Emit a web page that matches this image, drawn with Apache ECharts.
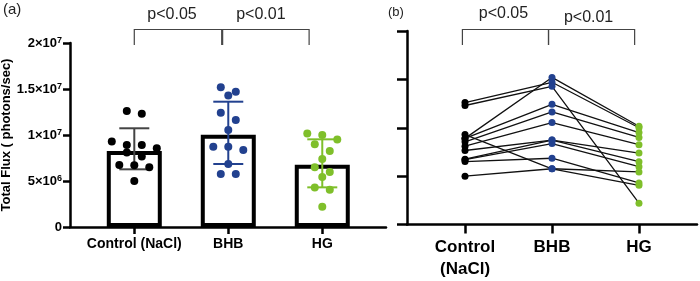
<!DOCTYPE html>
<html><head><meta charset="utf-8">
<script src="https://cdn.jsdelivr.net/npm/echarts@6/dist/echarts.min.js"></script>
<style>html,body{margin:0;padding:0;background:#fff}#c{width:700px;height:281px}</style>
</head><body><div id="c"></div>
<script>
// ---------- data (values in units of 10^6 photons/sec) ----------
const categoriesA = ['Control (NaCl)', 'BHB', 'HG'];
const categoriesB = ['Control\n(NaCl)', 'BHB', 'HG'];
// same animal at the same index in each group
const control = [12.6, 12.3, 8.9, 8.9, 8.55, 8.1, 7.65, 6.75, 6.7, 6.5, 9.3, 5.0];
const bhb     = [14.7, 14.28, 15.2, 12.42, 11.63, 10.54, 8.73, 8.73, 8.37, 6.85, 5.76, 5.76];
const hg      = [10.0, 2.2, 10.15, 9.5, 9.0, 8.25, 7.38, 6.49, 5.98, 4.3, 4.05, 5.43];
const barMeans = [8.26, 10.03, 6.77];
const errLow   = [6.27, 6.85, 4.31];
const errHigh  = [10.73, 13.62, 9.53];
const yTickValues = [0, 5, 10, 15, 20];
const yTickLabels = ['0', '5×10{s|6}', '1×10{s|7}', '1.5×10{s|7}', '2×10{s|7}'];
const pLabels = ['p<0.05', 'p<0.01'];

// ---------- styles / layout ----------
const dotColors = ['#000000', '#22418f', '#7fbf2a'];
const errColors = ['#444444', '#22418f', '#7fbf2a'];
const gridA = {left: 70, top: 43, width: 316, height: 184};
const gridB = {left: 407, top: 31, width: 290, height: 193.5};
const xRangeA = [-0.684, 2.678];
const xRangeB = [-0.667, 2.667];
const groups = [control, bhb, hg];
const FONT = 'Liberation Sans, Arial, sans-serif';

// simple row-based beeswarm (GraphPad-like): returns pixel offsets
function swarm(vals, pxPerUnit, diam, step) {
  const idx = vals.map((v, i) => i).sort((a, b) => vals[b] - vals[a]);
  const off = new Array(vals.length).fill(0);
  let row = [];
  const flush = () => { row.forEach((k, j) => { off[k] = (j - (row.length - 1) / 2) * step; }); row = []; };
  idx.forEach(k => {
    if (row.length && (vals[row[0]] - vals[k]) * pxPerUnit >= diam) flush();
    row.push(k);
  });
  flush();
  return off;
}
const pxYA = gridA.height / 20;
const pxXA = gridA.width / (xRangeA[1] - xRangeA[0]);

const chart = echarts.init(document.getElementById('c'), null, {renderer: 'canvas'});
const axisCol = '#000';
function yAxisCommon(gi, labels) {
  return {
    type: 'value', gridIndex: gi, min: 0, max: 20, interval: 5, position: 'left',
    axisLine: {show: true, onZero: false, lineStyle: {color: axisCol, width: 2.5}},
    axisTick: {show: true, length: gi === 0 ? 7 : 10, lineStyle: {color: axisCol, width: 2.5}},
    splitLine: {show: false},
    axisLabel: labels ? {
      margin: 8,
      formatter: v => yTickLabels[yTickValues.indexOf(v)],
      color: '#000', fontSize: 13, fontWeight: 'bold', fontFamily: FONT,
      rich: {s: {fontSize: 9, fontWeight: 'bold', color: '#000', verticalAlign: 'top', lineHeight: 9, fontFamily: FONT}}
    } : {show: false}
  };
}
function xAxisCommon(gi, range, cats, tickLen, label) {
  return {
    type: 'value', gridIndex: gi, min: range[0], max: range[1], position: 'bottom',
    axisLine: {show: true, onZero: false, lineStyle: {color: axisCol, width: 2.5}},
    axisTick: {show: true, customValues: [0, 1, 2], length: tickLen, lineStyle: {color: axisCol, width: 2.5}},
    axisLabel: Object.assign({customValues: [0, 1, 2], formatter: v => cats[Math.round(v)],
                              color: '#000', fontWeight: 'bold', fontFamily: FONT}, label),
    splitLine: {show: false}
  };
}

const series = [];
series.push({
  type: 'bar', xAxisIndex: 0, yAxisIndex: 0, barWidth: 55,
  data: barMeans.map((m, i) => [i, m]),
  itemStyle: {color: '#fff', borderColor: '#000', borderWidth: 4},
  z: 2, silent: true
});
series.push({
  type: 'custom', xAxisIndex: 0, yAxisIndex: 0, z: 3, silent: true,
  data: errLow.map((lo, i) => [i, lo, errHigh[i]]),
  renderItem(params, api) {
    const x = api.value(0);
    const lo = api.coord([x, api.value(1)]);
    const hi = api.coord([x, api.value(2)]);
    const c = errColors[params.dataIndex];
    const hw = 15, st = {stroke: c, lineWidth: 2};
    return {type: 'group', children: [
      {type: 'line', shape: {x1: lo[0], y1: lo[1], x2: hi[0], y2: hi[1]}, style: st},
      {type: 'line', shape: {x1: lo[0] - hw, y1: lo[1], x2: lo[0] + hw, y2: lo[1]}, style: st},
      {type: 'line', shape: {x1: hi[0] - hw, y1: hi[1], x2: hi[0] + hw, y2: hi[1]}, style: st}
    ]};
  }
});
groups.forEach((vals, gi) => {
  const off = swarm(vals, pxYA, 8, 15);
  series.push({
    type: 'scatter', xAxisIndex: 0, yAxisIndex: 0, symbolSize: 8, z: 4, silent: true,
    itemStyle: {color: dotColors[gi], opacity: 1},
    data: vals.map((v, k) => [gi + off[k] / pxXA, v])
  });
});
// panel b: paired lines
control.forEach((c, k) => {
  series.push({
    type: 'line', xAxisIndex: 1, yAxisIndex: 1, symbol: 'none', z: 3, silent: true,
    lineStyle: {color: '#111', width: 1.3},
    data: [[0, control[k]], [1, bhb[k]], [2, hg[k]]]
  });
});
groups.forEach((vals, gi) => {
  series.push({
    type: 'scatter', xAxisIndex: 1, yAxisIndex: 1, symbolSize: 7, z: 4, silent: true,
    itemStyle: {color: dotColors[gi], opacity: 1},
    data: vals.map(v => [gi, v])
  });
});

chart.setOption({
  animation: false,
  backgroundColor: '#fff',
  grid: [
    Object.assign({containLabel: false, outerBoundsMode: 'none'}, gridA),
    Object.assign({containLabel: false, outerBoundsMode: 'none'}, gridB)
  ],
  xAxis: [
    xAxisCommon(0, xRangeA, categoriesA, 7, {margin: 10, fontSize: 14}),
    xAxisCommon(1, xRangeB, categoriesB, 9, {margin: 12, fontSize: 17, lineHeight: 22})
  ],
  yAxis: [
    Object.assign(yAxisCommon(0, true), {
      name: 'Total Flux ( photons/sec)', nameLocation: 'middle', nameGap: 50,
      nameTextStyle: {color: '#000', fontSize: 13, fontWeight: 'bold', fontFamily: FONT}
    }),
    yAxisCommon(1, false)
  ],
  series
});

// significance brackets (annotations)
const bracketsA = [[0, 0.93], [0.94, 1.86]];
const bracketsB = [[-0.03, 0.96], [0.96, 1.95]];
const textShiftA = [-6, -5];
const textShiftB = [-2, -3];
const textYA = [14.5, 14.5];
const textYB = [13.5, 17.5];
const graphics = [];
function addBrackets(axisIdx, brs, shifts, ty) {
  brs.forEach((b, i) => {
    const x1 = chart.convertToPixel({xAxisIndex: axisIdx}, b[0]);
    const x2 = chart.convertToPixel({xAxisIndex: axisIdx}, b[1]);
    graphics.push({type: 'polyline', silent: true, z: 10,
      shape: {points: [[x1, 45], [x1, 29.5], [x2, 29.5], [x2, 45]]},
      style: {stroke: '#444', lineWidth: 1.2, fill: null}});
    graphics.push({type: 'text', silent: true, z: 10, x: (x1 + x2) / 2 + shifts[i], y: ty[i],
      style: {text: pLabels[i], fill: '#222', fontSize: 16, fontFamily: FONT,
              align: 'center', verticalAlign: 'middle'}});
  });
}
addBrackets(0, bracketsA, textShiftA, textYA);
addBrackets(1, bracketsB, textShiftB, textYB);
graphics.push({type: 'text', x: 3, y: 10, silent: true,
  style: {text: '(a)', fill: '#222', fontSize: 15, fontFamily: FONT, verticalAlign: 'middle'}});
graphics.push({type: 'text', x: 388, y: 12.5, silent: true,
  style: {text: '(b)', fill: '#222', fontSize: 13, fontFamily: FONT, verticalAlign: 'middle'}});
chart.setOption({graphic: graphics});
</script></body></html>
